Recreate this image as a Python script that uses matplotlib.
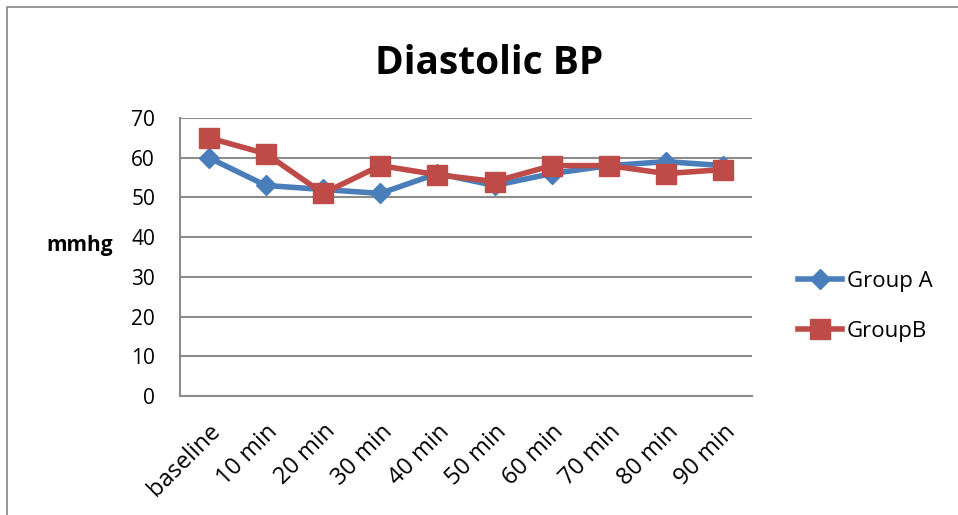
import matplotlib.pyplot as plt
from matplotlib.patches import Rectangle

times = ["baseline", "10 min", "20 min", "30 min", "40 min",
         "50 min", "60 min", "70 min", "80 min", "90 min"]
group_a = [60, 53, 52, 51, 56, 53, 56, 58, 59, 58]
group_b = [65, 61, 51, 58, 55.7, 54, 58, 58, 56, 57]

plt.rcParams["font.family"] = ["Open Sans", "DejaVu Sans"]

fig = plt.figure(figsize=(9.58, 5.15), dpi=100)
ax = fig.add_axes([0.188, 0.231, 0.597, 0.540])

# outer chart border (only left/top visible in the crop)
fig.patches.append(Rectangle((7 / 958, -0.1), 1.2, 1 - 7 / 515 + 0.1,
                             transform=fig.transFigure, fill=False,
                             edgecolor="#868686", linewidth=1.2))

x = range(len(times))
ax.plot(x, group_a, "-D", color="#4a7ebb", linewidth=4, markersize=10,
        label="Group A")
ax.plot(x, group_b, "-s", color="#be4b48", linewidth=4, markersize=15,
        label="GroupB")

ax.set_xlim(-0.5, len(times) - 0.5)
ax.set_ylim(0, 70)
ax.set_yticks(range(0, 71, 10))
ax.set_xticks(list(x))
ax.set_xticklabels(times, rotation=45, ha="right", rotation_mode="anchor")
ax.tick_params(length=0, labelsize=15)
ax.tick_params(axis="y", pad=18)
ax.tick_params(axis="x", pad=17, labelsize=17)
ax.grid(axis="y", color="#8c8c8c", linewidth=1.5)
ax.set_axisbelow(True)
for s in ["top", "right"]:
    ax.spines[s].set_visible(False)
for s in ["left", "bottom"]:
    ax.spines[s].set_color("#8c8c8c")
    ax.spines[s].set_linewidth(1.5)

fig.text(0.083, 0.524, "mmhg", fontsize=15, fontweight="bold",
         ha="center", va="center")
fig.text(0.511, 0.877, "Diastolic BP", fontsize=28, fontweight="bold",
         ha="center", va="center")

fig.legend(loc="center left", bbox_to_anchor=(0.812, 0.405), frameon=False,
           fontsize=16, handlelength=2.0, labelspacing=1.3, handletextpad=0.2)

fig.savefig("out.png", dpi=100)
